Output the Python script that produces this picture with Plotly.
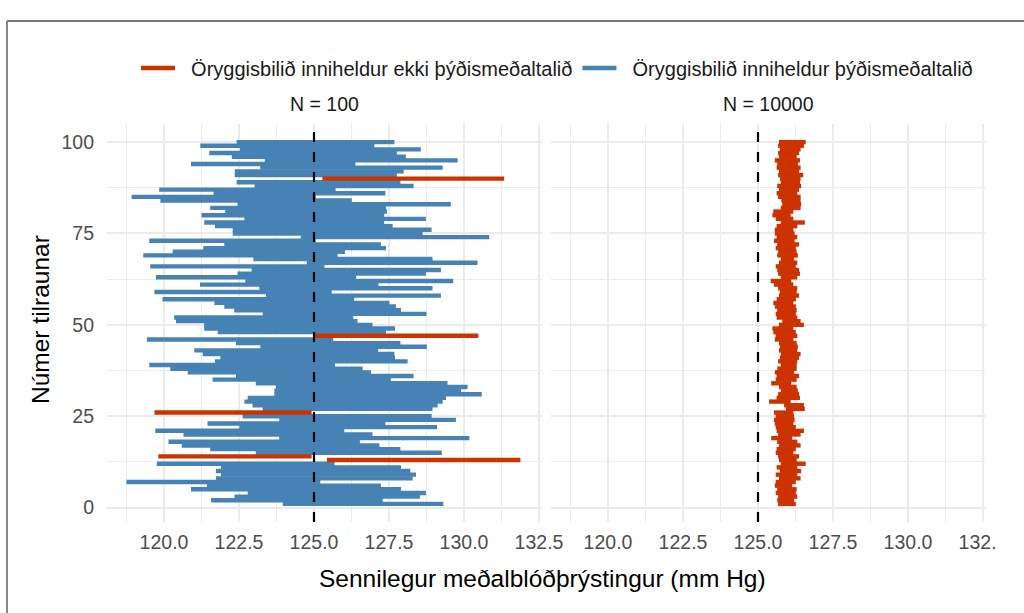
import plotly.graph_objects as go

# ---------------- data ----------------
POP_MEAN = 125.0
TRIALS = list(range(1, 101))

# N = 100 : lower / upper confidence limits, trial 1 .. 100
N100_LO = [123.96, 121.57, 122.35, 122.79, 120.90, 121.43, 118.75, 121.73, 121.90, 121.73,
           121.90, 119.76, 125.43, 119.81, 123.06, 121.54, 120.59, 120.15, 123.84, 120.65,
           119.71, 122.51, 121.45, 123.84, 122.62, 119.68, 123.29, 122.95, 122.68, 122.79,
           123.68, 123.68, 123.73, 123.06, 121.62, 122.40, 120.79, 120.21, 119.51, 121.70,
           121.88, 121.29, 121.01, 123.21, 122.40, 119.43, 125.03, 121.79, 121.34, 121.34,
           120.40, 120.34, 123.29, 122.34, 122.01, 121.68, 119.95, 123.40, 119.68, 123.18,
           121.20, 122.71, 119.73, 122.45, 122.92, 119.54, 124.76, 122.98, 119.31, 120.29,
           121.31, 122.01, 119.51, 124.56, 122.29, 122.29, 121.70, 121.34, 122.68, 121.25,
           122.04, 121.54, 122.45, 119.88, 118.92, 121.65, 119.84, 123.02, 122.42, 125.28,
           122.36, 122.36, 123.21, 120.90, 123.36, 122.26, 121.51, 122.53, 121.21, 122.42]
N100_HI = [129.31, 127.29, 128.53, 128.73, 127.90, 127.23, 125.21, 128.29, 128.40, 128.21,
           127.90, 125.68, 131.88, 124.92, 129.26, 127.88, 127.18, 126.53, 130.18, 126.95,
           126.01, 129.10, 127.38, 129.73, 128.92, 124.92, 128.95, 129.12, 129.29, 129.40,
           130.59, 129.90, 130.12, 129.45, 127.56, 128.32, 126.90, 126.62, 125.70, 128.12,
           127.70, 127.68, 127.14, 128.76, 127.88, 125.64, 130.48, 127.40, 127.70, 126.95,
           126.45, 126.31, 128.75, 127.90, 127.73, 127.51, 126.34, 129.23, 125.59, 128.95,
           127.15, 129.64, 126.40, 128.73, 129.23, 125.35, 130.45, 128.95, 125.79, 126.03,
           127.40, 127.23, 125.06, 130.84, 128.62, 128.92, 127.62, 127.34, 128.73, 127.34,
           127.43, 127.40, 129.56, 126.26, 125.06, 127.38, 125.72, 128.32, 127.88, 131.34,
           127.76, 127.99, 129.29, 126.38, 129.79, 128.06, 127.76, 128.56, 127.01, 127.68]

# N = 10000 : lower / upper confidence limits, trial 1 .. 100
N10000_LO = [125.67, 125.64, 125.67, 125.59, 125.64, 125.56, 125.59, 125.70, 125.59, 125.73,
             125.62, 125.76, 125.70, 125.67, 125.59, 125.62, 125.70, 125.64, 125.44, 125.67,
             125.62, 125.59, 125.56, 125.53, 125.59, 125.53, 125.93, 125.87, 125.37, 125.62,
             125.67, 125.76, 125.70, 125.44, 125.59, 125.62, 125.56, 125.64, 125.76, 125.67,
             125.73, 125.76, 125.70, 125.73, 125.70, 125.56, 125.59, 125.51, 125.48, 125.70,
             125.81, 125.62, 125.59, 125.64, 125.56, 125.51, 125.62, 125.70, 125.73, 125.67,
             125.53, 125.42, 125.76, 125.67, 125.64, 125.59, 125.70, 125.76, 125.64, 125.67,
             125.59, 125.64, 125.53, 125.62, 125.56, 125.56, 125.62, 125.76, 125.59, 125.48,
             125.51, 125.76, 125.81, 125.78, 125.67, 125.62, 125.70, 125.64, 125.76, 125.73,
             125.67, 125.70, 125.62, 125.64, 125.56, 125.70, 125.67, 125.73, 125.67, 125.70]
N10000_HI = [126.26, 126.20, 126.31, 126.26, 126.29, 126.14, 126.26, 126.42, 126.31, 126.44,
             126.31, 126.59, 126.29, 126.37, 126.18, 126.26, 126.42, 126.31, 126.14, 126.42,
             126.53, 126.26, 126.18, 126.22, 126.20, 126.18, 126.56, 126.53, 126.09, 126.40,
             126.37, 126.33, 126.29, 126.11, 126.29, 126.37, 126.20, 126.29, 126.29, 126.31,
             126.37, 126.42, 126.31, 126.33, 126.29, 126.18, 126.31, 126.26, 126.18, 126.53,
             126.42, 126.31, 126.26, 126.29, 126.26, 126.18, 126.26, 126.37, 126.29, 126.31,
             126.18, 126.11, 126.31, 126.40, 126.37, 126.26, 126.31, 126.20, 126.33, 126.29,
             126.26, 126.37, 126.22, 126.31, 126.22, 126.18, 126.31, 126.56, 126.18, 126.09,
             126.18, 126.42, 126.44, 126.42, 126.42, 126.31, 126.37, 126.44, 126.40, 126.42,
             126.51, 126.37, 126.42, 126.33, 126.40, 126.29, 126.37, 126.42, 126.53, 126.59]

PANEL_LABELS = ["N = 100", "N = 10000"]
LEGEND_LABELS = ["Öryggisbilið inniheldur ekki þýðismeðaltalið",
                 "Öryggisbilið inniheldur þýðismeðaltalið"]
X_TICKS = [120.0, 122.5, 125.0, 127.5, 130.0, 132.5]
Y_TICKS = [0, 25, 50, 75, 100]
X_TITLE = "Sennilegur meðalblóðþrýstingur (mm Hg)"
Y_TITLE = "Númer tilraunar"

# ---------------- styling ----------------
RED = "#CC3300"
BLUE = "#4682B4"
GRID = "#EBEBEB"
FONT = "Liberation Sans"
W, H = 1024, 613
ML, MR, MT, MB = 107, 38, 124, 91
PW, PH = W - ML - MR, H - MT - MB
XR = [118.1, 132.6]
YR = [-3.95, 104.95]
LW = 4.4
GAP = "\u00a0\u00a0"


def segments(lo, hi, contains):
    xs, ys = [], []
    for t, a, b in zip(TRIALS, lo, hi):
        if (a <= POP_MEAN <= b) == contains:
            xs += [a, b, None]
            ys += [t, t, None]
    return xs, ys


def px2x(px):
    return (px - ML) / PW


def px2y(py):
    return (H - MB - py) / PH


fig = go.Figure()
panels = [(N100_LO, N100_HI, "x", "y"), (N10000_LO, N10000_HI, "x2", "y2")]
for k, (lo, hi, xa, ya) in enumerate(panels):
    # blue first, red on top
    for contains, color, name, rank in [(True, BLUE, LEGEND_LABELS[1], 2),
                                         (False, RED, LEGEND_LABELS[0], 1)]:
        xs, ys = segments(lo, hi, contains)
        fig.add_trace(go.Scatter(
            x=xs, y=ys, mode="lines", xaxis=xa, yaxis=ya,
            line=dict(color=color, width=LW),
            name=GAP + name, legendgroup=name, legendrank=rank,
            showlegend=(k == 0), hoverinfo="skip"))

axis_common = dict(range=XR, tickvals=X_TICKS, ticktext=[f"{v:.1f}" for v in X_TICKS],
                   showgrid=True, gridcolor=GRID, gridwidth=1.6, zeroline=False,
                   showline=False, ticks="", ticklabelstandoff=6,
                   tickfont=dict(family=FONT, size=19.5, color="#4D4D4D"),
                   minor=dict(dtick=1.25, tick0=120, showgrid=True, gridcolor=GRID, gridwidth=0.9))
yaxis_common = dict(range=YR, tickvals=Y_TICKS, showgrid=True, gridcolor=GRID, gridwidth=1.6,
                    zeroline=False, showline=False, ticks="",
                    tickfont=dict(family=FONT, size=19.5, color="#4D4D4D"),
                    minor=dict(dtick=12.5, tick0=0, showgrid=True, gridcolor=GRID, gridwidth=0.9))

fig.update_layout(
    width=W, height=H,
    margin=dict(l=ML, r=MR, t=MT, b=MB, pad=0),
    paper_bgcolor="white", plot_bgcolor="white",
    font=dict(family=FONT, color="#1A1A1A"),
    xaxis=dict(domain=[0, 435 / PW], anchor="y", **axis_common),
    xaxis2=dict(domain=[444 / PW, 1], anchor="y2", **axis_common),
    yaxis=dict(domain=[0, 1], anchor="x", ticklabelstandoff=12, **yaxis_common),
    yaxis2=dict(domain=[0, 1], anchor="x2", matches="y", showticklabels=False, **yaxis_common),
    showlegend=True,
    legend=dict(orientation="h", x=px2x(557), xanchor="center", y=px2y(68), yanchor="middle",
                font=dict(family=FONT, size=20, color="#1A1A1A"),
                itemwidth=34, bgcolor="rgba(0,0,0,0)", traceorder="normal"),
)

# dashed population-mean lines
for xa in ["x", "x2"]:
    fig.add_shape(type="line", xref=xa, yref=f"{'y' if xa == 'x' else 'y2'} domain",
                  x0=POP_MEAN, x1=POP_MEAN, y0=0, y1=1, layer="above",
                  line=dict(color="black", width=2.2, dash="10px,10px"))

# facet strip labels
centers = [(435 / PW) / 2, (444 / PW + 1) / 2]
for lab, cx in zip(PANEL_LABELS, centers):
    fig.add_annotation(text=lab, x=cx, y=px2y(104), xref="paper", yref="paper",
                       showarrow=False, xanchor="center", yanchor="middle",
                       font=dict(family=FONT, size=19.5, color="#1A1A1A"))

# axis titles
fig.add_annotation(text=X_TITLE, x=px2x(542), y=px2y(578), xref="paper", yref="paper",
                   showarrow=False, xanchor="center", yanchor="middle",
                   font=dict(family=FONT, size=24.5, color="black"))
fig.add_annotation(text=Y_TITLE, x=px2x(40), y=px2y(320), xref="paper", yref="paper",
                   showarrow=False, xanchor="center", yanchor="middle", textangle=-90,
                   font=dict(family=FONT, size=24.5, color="black"))

# outer frame (top and left edges visible in the reference)
fig.add_shape(type="line", xref="paper", yref="paper", x0=px2x(7), x1=px2x(1024),
              y0=px2y(21), y1=px2y(21), line=dict(color="#7A7A7A", width=1.8), layer="above")
fig.add_shape(type="line", xref="paper", yref="paper", x0=px2x(7), x1=px2x(7),
              y0=px2y(21), y1=px2y(613), line=dict(color="#7A7A7A", width=1.8), layer="above")
# reference picture is cut at the right edge of the last tick label
fig.add_shape(type="rect", xref="paper", yref="paper", x0=px2x(997), x1=px2x(1024),
              y0=px2y(556), y1=px2y(526), line=dict(width=0), fillcolor="white", layer="above")

fig.write_html("out.html",
               config={"displayModeBar": False},
               post_script="document.body.style.margin='0';document.body.style.overflow='hidden';")
